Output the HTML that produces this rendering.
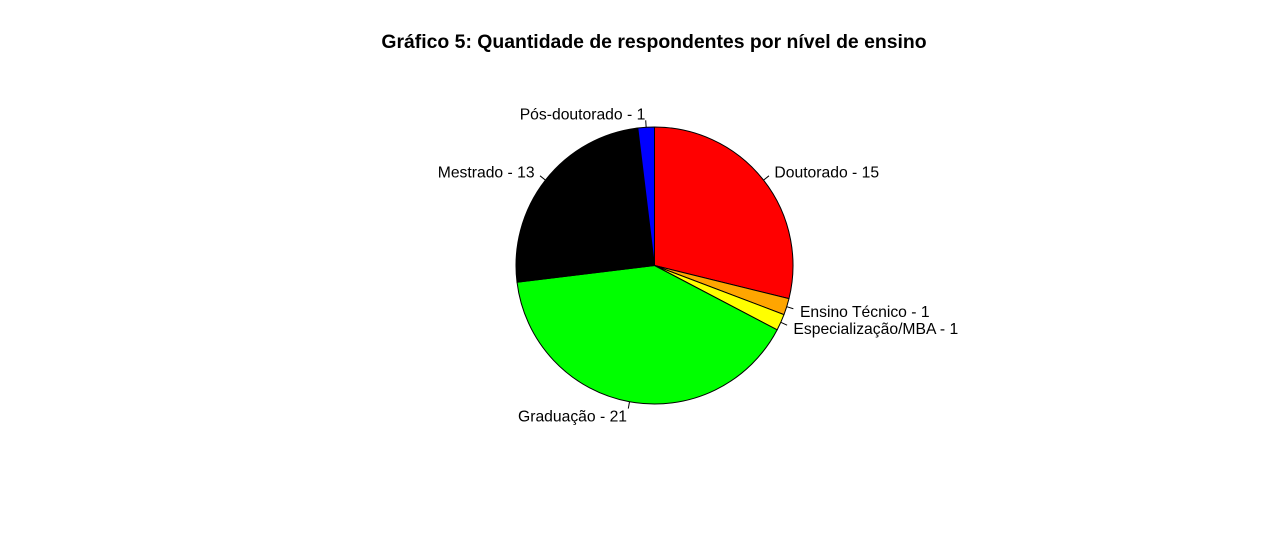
<!DOCTYPE html>
<html><head><meta charset="utf-8"><style>
body{margin:0;background:#fff;}
svg{display:block;font-family:"Liberation Sans",Arial,sans-serif;}
</style></head><body>
<svg id="chart" width="1270" height="550">
<text x="654" y="48" text-anchor="middle" font-size="19.4" font-weight="bold">Gráfico 5: Quantidade de respondentes por nível de ensino</text>
<g id="slices"></g>
</svg>
<script>
const categories=["Doutorado","Ensino Técnico","Especialização/MBA","Graduação","Mestrado","Pós-doutorado"];
const values=[15,1,1,21,13,1];
const colors=["#ff0000","#ffa500","#ffff00","#00ff00","#000000","#0000ff"];
const cx=654.5,cy=265.5,r=138.5;
const g=document.getElementById('slices');
const ns="http://www.w3.org/2000/svg";
const total=values.reduce((a,b)=>a+b,0);
let cum=0;
function pt(frac,rr){const a=Math.PI/2-frac*2*Math.PI;return [cx+rr*Math.cos(a),cy-rr*Math.sin(a)];}
values.forEach((v,i)=>{
  const f0=cum/total,f1=(cum+v)/total;cum+=v;
  const p0=pt(f0,r),p1=pt(f1,r);
  const large=(f1-f0)>0.5?1:0;
  const path=document.createElementNS(ns,'path');
  path.setAttribute('d',`M${cx},${cy}L${p0[0]},${p0[1]}A${r},${r} 0 ${large} 1 ${p1[0]},${p1[1]}Z`);
  path.setAttribute('fill',colors[i]);path.setAttribute('stroke','#000');path.setAttribute('stroke-width','1');
  
  
  g.appendChild(path);
  const fm=(f0+f1)/2;
  const a=pt(fm,r),b=pt(fm,r*1.05),t=pt(fm,r*1.1);
  const ln=document.createElementNS(ns,'line');
  ln.setAttribute('x1',a[0]);ln.setAttribute('y1',a[1]);ln.setAttribute('x2',b[0]);ln.setAttribute('y2',b[1]);
  ln.setAttribute('stroke','#000');
  
  
  g.appendChild(ln);
  const tx=document.createElementNS(ns,'text');
  const cosv=Math.cos(Math.PI/2-fm*2*Math.PI);
  tx.setAttribute('x',t[0]);tx.setAttribute('y',t[1]+6);
  tx.setAttribute('text-anchor',cosv>=0?'start':'end');
  tx.setAttribute('font-size','15.7');
  tx.textContent=categories[i]+' - '+v;
  
  
  g.appendChild(tx);
});
</script>
</body></html>
